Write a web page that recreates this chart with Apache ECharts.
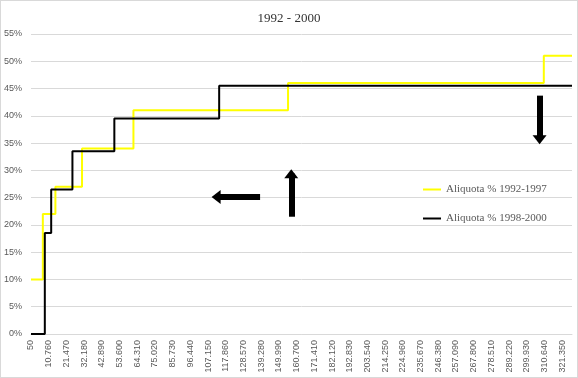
<!DOCTYPE html>
<html>
<head>
<meta charset="utf-8">
<script src="https://cdn.jsdelivr.net/npm/echarts@6/dist/echarts.min.js"></script>
<style>
  html, body { margin: 0; padding: 0; background: #fff; }
  #chart { width: 578px; height: 378px; box-sizing: border-box; border: 1px solid #d9d9d9; }
</style>
</head>
<body>
<div id="chart"></div>
<script>
// scaglioni di reddito (inizio scaglione) e aliquote %
const OFFSET = 50;
const STEP = 10710;
const X_END = 327250;
const tickLabels = ['50', '10.760', '21.470', '32.180', '42.890', '53.600', '64.310', '75.020', '85.730', '96.440',
  '107.150', '117.860', '128.570', '139.280', '149.990', '160.700', '171.410', '182.120', '192.830', '203.540',
  '214.250', '224.960', '235.670', '246.380', '257.090', '267.800', '278.510', '289.220', '299.930', '310.640', '321.350'];

const yellowFrom = [50, 7200, 14800, 30900, 62000, 155500, 310200, X_END];
const yellowRate = [10, 22, 27, 34, 41, 46, 51, 51];
const blackFrom = [50, 8400, 12250, 25100, 50450, 113850, X_END];
const blackRate = [0, 18.5, 26.5, 33.5, 39.5, 45.5, 45.5];

// frecce: [x da, y da, x a, y a]
const arrows = [
  [138600, 25.1, 112000, 25.1],
  [157450, 21.5, 157450, 29.4],
  [307650, 43.7, 307650, 35.6]
];

function pts (xs, ys) {
  let out = [];
  for (let i = 0; i < xs.length; i++) {
    out.push([xs[i] - OFFSET, ys[i]]);
  }
  return out;
}

let myChart = echarts.init(document.getElementById('chart'));
let option = {
  animation: false,
  title: {
    text: '1992 - 2000',
    left: 'center',
    top: 6,
    textStyle: { fontFamily: 'Liberation Serif', fontSize: 13, fontWeight: 'normal', color: '#333333' }
  },
  legend: {
    orient: 'vertical',
    left: 417,
    top: 178,
    itemGap: 18,
    itemWidth: 18,
    itemHeight: 2,
    icon: 'rect',
    textStyle: { fontFamily: 'Liberation Serif', fontSize: 11, color: '#595959' },
    data: ['Aliquota % 1992-1997', 'Aliquota % 1998-2000']
  },
  grid: { left: 30, right: 5, top: 33, bottom: 43 },
  xAxis: {
    type: 'value',
    min: 0,
    max: X_END - OFFSET,
    interval: STEP,
    axisLine: { lineStyle: { color: '#d9d9d9' } },
    axisTick: { show: false },
    splitLine: { show: false },
    axisLabel: {
      rotate: 90,
      margin: 6,
      fontFamily: 'Liberation Sans',
      fontSize: 9,
      color: '#595959',
      showMaxLabel: false,
      formatter: function (v) {
        let i = Math.round(v / STEP);
        if (Math.abs(v - i * STEP) > 1) return '';
        return tickLabels[i] || '';
      }
    }
  },
  yAxis: {
    type: 'value',
    min: 0,
    max: 55,
    interval: 5,
    axisLine: { show: false },
    axisTick: { show: false },
    splitLine: { lineStyle: { color: '#d9d9d9' } },
    axisLabel: {
      margin: 9,
      fontFamily: 'Liberation Sans',
      fontSize: 9,
      color: '#595959',
      formatter: '{value}%'
    }
  },
  series: [
    {
      name: 'Aliquota % 1992-1997',
      type: 'line',
      step: 'end',
      symbol: 'none',
      data: pts(yellowFrom, yellowRate),
      lineStyle: { color: '#ffff00', width: 2 },
      itemStyle: { color: '#ffff00' }
    },
    {
      name: 'Aliquota % 1998-2000',
      type: 'line',
      step: 'end',
      symbol: 'none',
      data: pts(blackFrom, blackRate),
      lineStyle: { color: '#000000', width: 2 },
      itemStyle: { color: '#000000' },
      markLine: {
        silent: true,
        symbol: ['none', 'triangle'],
        symbolSize: [14, 9],
        label: { show: false },
        lineStyle: { color: '#000', width: 6, type: 'solid' },
        data: arrows.map(a => [{ coord: [a[0] - OFFSET, a[1]] }, { coord: [a[2] - OFFSET, a[3]] }])
      }
    }
  ]
};
myChart.setOption(option);
</script>
</body>
</html>
